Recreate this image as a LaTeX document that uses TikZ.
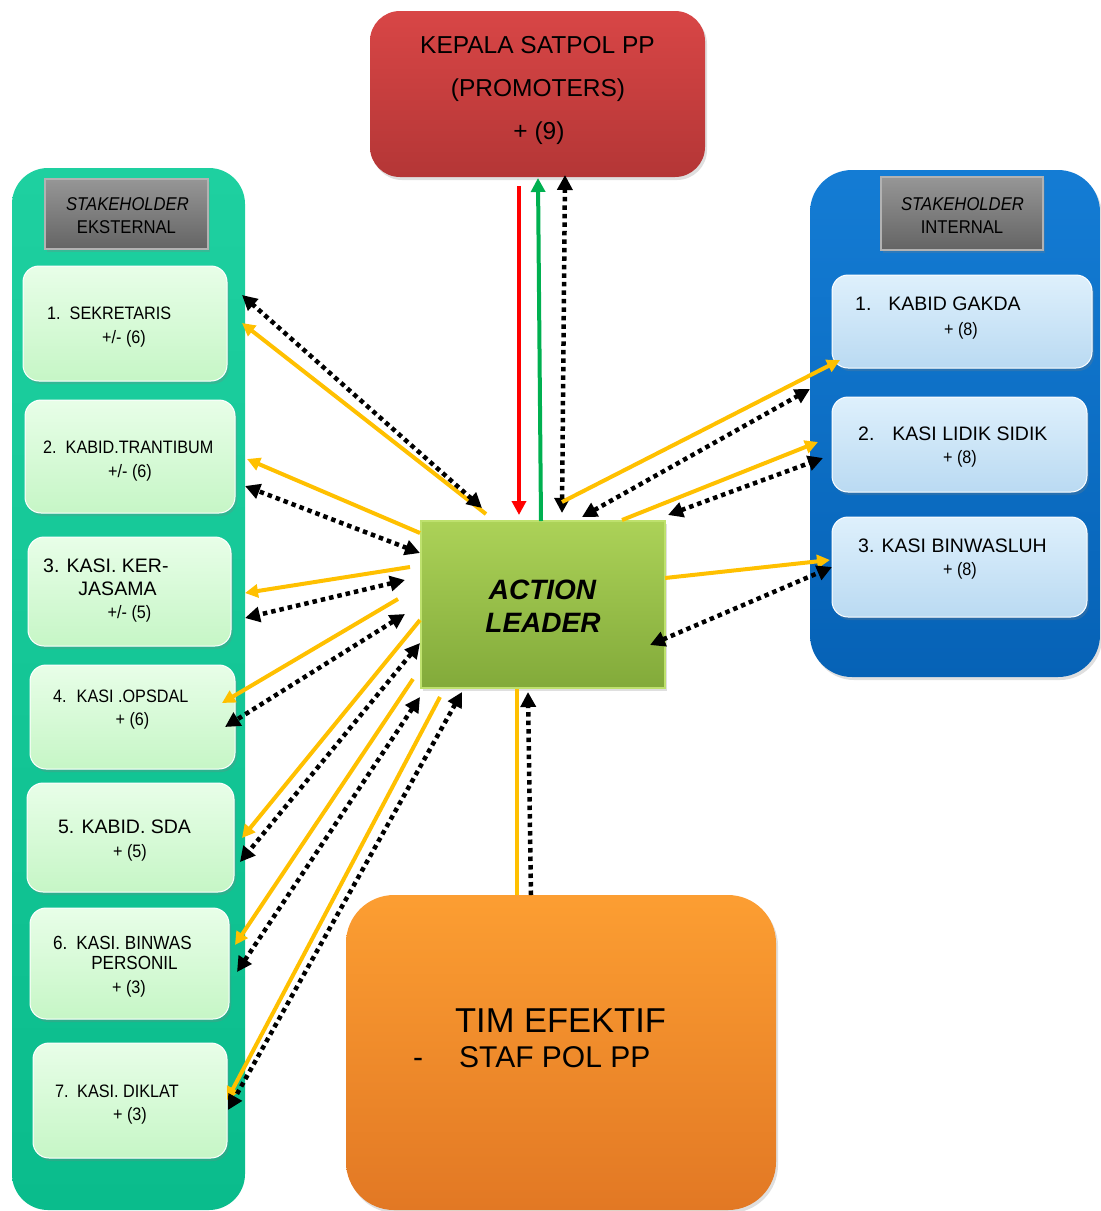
\documentclass[tikz,border=0pt]{standalone}
\usepackage{fontspec}
\setmainfont{Liberation Sans}
\newfontfamily\cond{Liberation Sans}[FakeStretch=0.9]
\usetikzlibrary{arrows.meta,shadows}
\definecolor{teal1}{RGB}{30,208,160}
\definecolor{teal2}{RGB}{10,188,140}
\definecolor{lg1}{RGB}{232,254,232}
\definecolor{lg2}{RGB}{198,246,198}
\definecolor{gr1}{RGB}{150,150,150}
\definecolor{gr2}{RGB}{100,100,100}
\definecolor{grb}{RGB}{178,178,178}
\definecolor{bl1}{RGB}{20,124,212}
\definecolor{bl2}{RGB}{6,98,182}
\definecolor{lb1}{RGB}{222,240,252}
\definecolor{lb2}{RGB}{186,218,242}
\definecolor{rd1}{RGB}{216,70,70}
\definecolor{rd2}{RGB}{180,54,54}
\definecolor{ag1}{RGB}{172,210,88}
\definecolor{ag2}{RGB}{130,170,58}
\definecolor{agb}{RGB}{190,225,110}
\definecolor{or1}{RGB}{252,158,50}
\definecolor{or2}{RGB}{226,120,36}
\definecolor{gold}{RGB}{255,192,0}
\definecolor{grn}{RGB}{0,176,80}
\begin{document}
\begin{tikzpicture}[x=1pt,y=-1pt,
  shd/.style={drop shadow={opacity=0.25,shadow xshift=2pt,shadow yshift=-3pt}},
  base/.style={inner sep=0pt,outer sep=0pt,draw=none},
  lpanel/.style={base,rounded corners=36pt,top color=teal1,bottom color=teal2},
  rpanel/.style={base,rounded corners=42pt,top color=bl1,bottom color=bl2,shd},
  hdr/.style={base,top color=gr1,bottom color=gr2,draw=grb,line width=1.5pt,shd},
  lbox/.style={base,rounded corners=16pt,top color=lg1,bottom color=lg2,draw=white,line width=1pt,shd},
  rbox/.style={base,rounded corners=16pt,top color=lb1,bottom color=lb2,draw=white,line width=1pt,shd},
  redbox/.style={base,rounded corners=30pt,top color=rd1,bottom color=rd2,shd},
  albox/.style={base,top color=ag1,bottom color=ag2,draw=agb,line width=1.5pt,shd},
  orbox/.style={base,rounded corners=48pt,top color=or1,bottom color=or2,shd},
  sm/.style={inner sep=0pt,font=\cond\fontsize{18}{22}\selectfont},
  smn/.style={inner sep=0pt,font=\fontsize{19.5}{23}\selectfont},
  big/.style={inner sep=0pt,font=\fontsize{24.5}{28}\selectfont},
  yarrow/.style={draw=gold,line width=4pt,-{Triangle[length=13pt,width=13pt]}},
  darrow/.style={draw=black,line width=4.5pt,dash pattern=on 4.5pt off 4pt,
     {Triangle[length=15pt,width=15pt]}-{Triangle[length=15pt,width=15pt]}},
  uarrow/.style={draw=black,line width=4.5pt,dash pattern=on 4.5pt off 4pt,
     -{Triangle[length=15pt,width=15pt]}}
]
\useasboundingbox (0,0) rectangle (1101,1211);

% ---------- left panel ----------
\node[lpanel,minimum width=233pt,minimum height=1042pt] (lp) at (128.5,689) {};
\node[hdr,minimum width=163pt,minimum height=70pt] (hl) at (126.5,214) {};
\node[sm,anchor=base,font=\cond\itshape\fontsize{18.5}{22}\selectfont] (hl1) at (127.5,210) {STAKEHOLDER};
\node[sm,anchor=base,font=\cond\fontsize{18.5}{22}\selectfont] (hl2) at (126.5,233) {EKSTERNAL};

\node[lbox,minimum width=204pt,minimum height=115pt] (l1) at (125,323.5) {};
\node[lbox,minimum width=210pt,minimum height=113pt] (l2) at (130,456.5) {};
\node[lbox,minimum width=203pt,minimum height=109pt] (l3) at (129.5,591.5) {};
\node[lbox,minimum width=205pt,minimum height=104pt] (l4) at (132.5,717) {};
\node[lbox,minimum width=207pt,minimum height=109pt] (l5) at (130.5,837.5) {};
\node[lbox,minimum width=199pt,minimum height=111pt] (l6) at (129.5,963.5) {};
\node[lbox,minimum width=194pt,minimum height=115pt] (l7) at (130,1100.5) {};

\node[sm,anchor=base west] (l1a) at (47,319) {1.\hspace{9pt}SEKRETARIS};
\node[sm,anchor=base] (l1b) at (124,343) {+/- (6)};
\node[sm,anchor=base west] (l2a) at (43,453) {2.\hspace{9pt}KABID.TRANTIBUM};
\node[sm,anchor=base] (l2b) at (130,477) {+/- (6)};
\node[smn,anchor=base west] (l3a) at (43,572) {3. KASI. KER-};
\node[smn,anchor=base] (l3b) at (117.5,595) {JASAMA};
\node[sm,anchor=base] (l3c) at (129.5,618) {+/- (5)};
\node[sm,anchor=base west] (l4a) at (53,702) {4.\hspace{10pt}KASI .OPSDAL};
\node[sm,anchor=base] (l4b) at (132.5,725) {+ (6)};
\node[smn,anchor=base] (l5a) at (124.5,833) {5. KABID. SDA};
\node[sm,anchor=base] (l5b) at (130,857) {+ (5)};
\node[sm,anchor=base west,font=\cond\fontsize{19}{23}\selectfont] (l6a) at (53,949) {6.\hspace{9pt}KASI. BINWAS};
\node[sm,anchor=base,font=\cond\fontsize{19}{23}\selectfont] (l6b) at (134.5,969) {PERSONIL};
\node[sm,anchor=base] (l6c) at (129,993) {+ (3)};
\node[sm,anchor=base west] (l7a) at (55,1097) {7.\hspace{8.5pt}KASI. DIKLAT};
\node[sm,anchor=base] (l7b) at (130,1120) {+ (3)};

% ---------- right panel ----------
\node[rpanel,minimum width=290pt,minimum height=507pt] (rp) at (955,423.5) {};
\node[hdr,minimum width=162pt,minimum height=73pt] (hr) at (962,213.5) {};
\node[sm,anchor=base,font=\cond\itshape\fontsize{18.5}{22}\selectfont] (hr1) at (962.5,210) {STAKEHOLDER};
\node[sm,anchor=base,font=\cond\fontsize{18.5}{22}\selectfont] (hr2) at (962,233) {INTERNAL};

\node[rbox,minimum width=260pt,minimum height=93pt] (r1) at (962,321.5) {};
\node[rbox,minimum width=255pt,minimum height=95pt] (r2) at (959.5,444.5) {};
\node[rbox,minimum width=255pt,minimum height=100pt] (r3) at (959.5,567) {};

\node[smn,anchor=base west] (r1a) at (855,310) {1.\hspace{17pt}KABID GAKDA};
\node[sm,anchor=base] (r1b) at (961,335) {+ (8)};
\node[smn,anchor=base west] (r2a) at (858,440) {2.\hspace{18pt}KASI LIDIK SIDIK};
\node[sm,anchor=base] (r2b) at (960,463) {+ (8)};
\node[smn,anchor=base west] (r3a) at (858,552) {3. KASI BINWASLUH};
\node[sm,anchor=base] (r3b) at (960,575) {+ (8)};

% ---------- top, centre, bottom ----------
\node[redbox,minimum width=335pt,minimum height=166pt] (kp) at (537.5,94) {};
\node[big,anchor=base] (kp1) at (537.5,53) {KEPALA SATPOL PP};
\node[big,anchor=base] (kp2) at (538,96) {(PROMOTERS)};
\node[big,anchor=base] (kp3) at (539,139) {+ (9)};

\node[albox,minimum width=244pt,minimum height=167pt] (al) at (543,604.5) {};
\node[inner sep=0pt,anchor=base,font=\bfseries\itshape\fontsize{28}{32}\selectfont] (al1) at (542.5,599) {ACTION};
\node[inner sep=0pt,anchor=base,font=\bfseries\itshape\fontsize{28}{32}\selectfont] (al2) at (543,632) {LEADER};

\node[orbox,minimum width=430pt,minimum height=315pt] (te) at (561,1052.5) {};
\node[inner sep=0pt,anchor=base,font=\fontsize{34.5}{38}\selectfont] (te1) at (560.5,1032) {TIM EFEKTIF};
\node[inner sep=0pt,anchor=base west,font=\fontsize{30}{34}\selectfont] (te2) at (413,1067) {-};
\node[inner sep=0pt,anchor=base west,font=\fontsize{30}{34}\selectfont] (te3) at (459,1067) {STAF POL PP};

% ---------- vertical connectors ----------
\coordinate (redS) at (519,186);
\coordinate (redE) at (519,515);
\draw[draw=red,line width=4pt,-{Triangle[length=14pt,width=14pt]}] (redS) -- (redE);
\coordinate (grS) at (541,521);
\coordinate (grE) at (538,178);
\draw[draw=grn,line width=4pt,-{Triangle[length=14pt,width=14pt]}] (grS) -- (grE);
\coordinate (dkA) at (565,175);
\coordinate (dkB) at (562,513);
\draw[darrow] (dkB) -- (dkA);

\coordinate (ybS) at (517,689);
\coordinate (ybE) at (517,895);
\draw[draw=gold,line width=4pt] (ybS) -- (ybE);
\coordinate (dbS) at (531,895);
\coordinate (dbE) at (528,692);
\draw[uarrow] (dbS) -- (dbE);

% ---------- left connectors ----------
\foreach \n/\ax/\ay/\bx/\by in {1/486/514/242/323, 2/420/533/247/459, 3/410/567/245/593,
   4/398/599/222/703, 5/420/620/242/838, 6/413/679/235/945, 7/440/697/227/1100}{
  \coordinate (ys\n) at (\ax,\ay);
  \coordinate (ye\n) at (\bx,\by);
  \draw[yarrow] (ys\n) -- (ye\n);
}
\foreach \n/\ax/\ay/\bx/\by in {1/482/508/242/295, 2/420/553/245/486, 3/405/580/245/618,
   4/405/614/225/727, 5/420/643/240/862, 6/420/697/237/972, 7/462/692/228/1110}{
  \coordinate (ds\n) at (\ax,\ay);
  \coordinate (de\n) at (\bx,\by);
  \draw[darrow] (ds\n) -- (de\n);
}

% ---------- right connectors ----------
\foreach \n/\ax/\ay/\bx/\by in {1/562/502/840/360, 2/622/520/818/442, 3/665/578/830/560}{
  \coordinate (rys\n) at (\ax,\ay);
  \coordinate (rye\n) at (\bx,\by);
  \draw[yarrow] (rys\n) -- (rye\n);
}
\foreach \n/\ax/\ay/\bx/\by in {1/582/517/810/389, 2/668/515/823/458, 3/650/645/832/567}{
  \coordinate (rds\n) at (\ax,\ay);
  \coordinate (rde\n) at (\bx,\by);
  \draw[darrow] (rds\n) -- (rde\n);
}
\end{tikzpicture}
\end{document}
